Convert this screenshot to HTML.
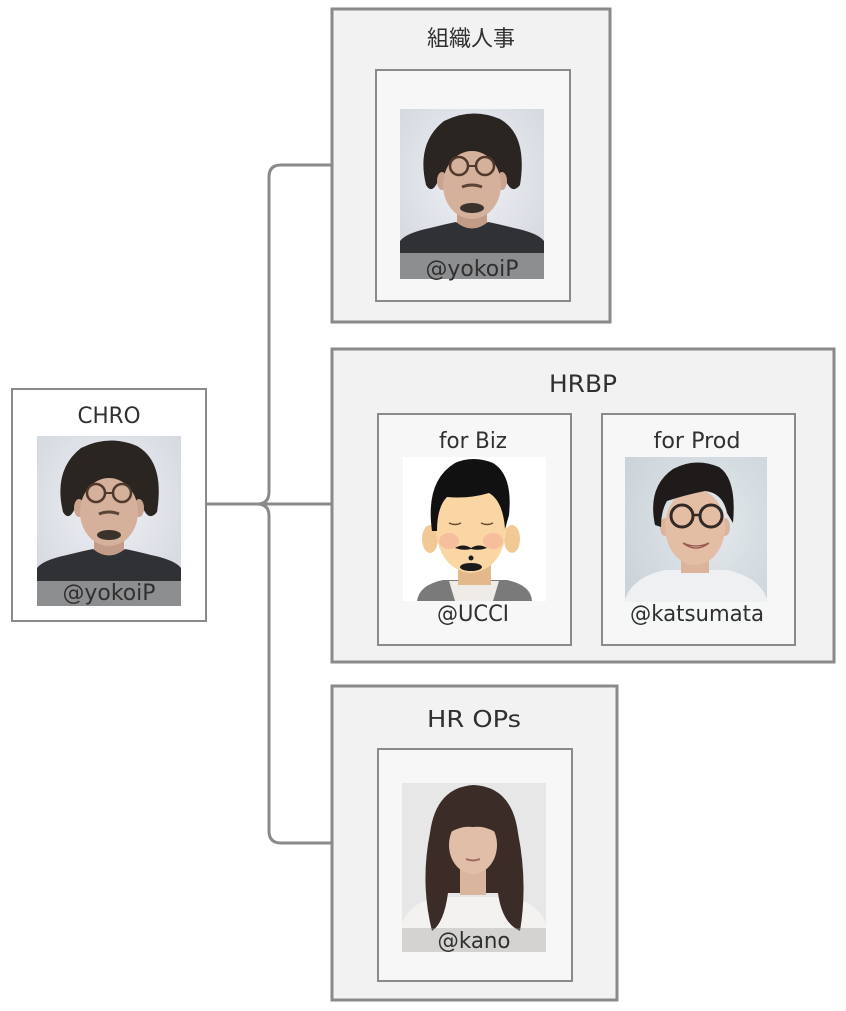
<!DOCTYPE html>
<html>
<head>
<meta charset="utf-8">
<style>
html,body{margin:0;padding:0;background:#fff;}
svg{display:block;}
text{font-family:"DejaVu Sans","Liberation Sans","Noto Sans CJK JP",sans-serif;fill:#303030;}
</style>
</head>
<body>
<svg width="846" height="1011" viewBox="0 0 846 1011" xmlns="http://www.w3.org/2000/svg">
<defs>
<radialGradient id="bgy" cx="50%" cy="40%" r="70%">
<stop offset="0" stop-color="#eef0f4"/><stop offset="1" stop-color="#d3d7de"/>
</radialGradient>
<radialGradient id="bgk" cx="60%" cy="40%" r="75%">
<stop offset="0" stop-color="#e3e8eb"/><stop offset="1" stop-color="#c9d2d8"/>
</radialGradient>
</defs>

<!-- connectors -->
<g fill="none" stroke="#8a8a8a" stroke-width="3">
<path d="M207,504 L331,504"/>
<path d="M257,504 Q269,504 269,492 L269,177 Q269,165 281,165 L331,165"/>
<path d="M257,504 Q269,504 269,516 L269,831 Q269,843 281,843 L331,843"/>
</g>

<!-- CHRO box -->
<rect x="12" y="389" width="194" height="232" fill="#fff" stroke="#8a8a8a" stroke-width="2"/>
<text x="109" y="423" font-size="22" text-anchor="middle" textLength="63" lengthAdjust="spacingAndGlyphs">CHRO</text>

<!-- 組織人事 group -->
<rect x="332" y="9" width="278" height="313" fill="#f2f2f2" stroke="#8a8a8a" stroke-width="3"/>
<rect x="376" y="70" width="194" height="231" fill="#f7f7f7" stroke="#8a8a8a" stroke-width="2"/>
<text x="471" y="46" font-size="22" text-anchor="middle" font-family="Noto Sans CJK JP, sans-serif">組織人事</text>

<!-- HRBP group -->
<rect x="332" y="349" width="502" height="313" fill="#f2f2f2" stroke="#8a8a8a" stroke-width="3"/>
<text x="583" y="392" font-size="24" text-anchor="middle" textLength="68" lengthAdjust="spacingAndGlyphs">HRBP</text>
<rect x="378" y="414" width="193" height="231" fill="#f7f7f7" stroke="#8a8a8a" stroke-width="2"/>
<rect x="602" y="414" width="193" height="231" fill="#f7f7f7" stroke="#8a8a8a" stroke-width="2"/>
<text x="473" y="448" font-size="22" text-anchor="middle" textLength="68" lengthAdjust="spacingAndGlyphs">for Biz</text>
<text x="697" y="448" font-size="22" text-anchor="middle" textLength="87" lengthAdjust="spacingAndGlyphs">for Prod</text>

<!-- HR OPs group -->
<rect x="332" y="686" width="285" height="314" fill="#f2f2f2" stroke="#8a8a8a" stroke-width="3"/>
<rect x="378" y="749" width="194" height="232" fill="#f7f7f7" stroke="#8a8a8a" stroke-width="2"/>
<text x="474" y="727" font-size="23" text-anchor="middle" textLength="94" lengthAdjust="spacingAndGlyphs">HR OPs</text>

<!-- yokoiP photo top -->
<g transform="translate(400,109)">
<rect width="144" height="170" fill="url(#bgy)"/>
<path d="M26,76 Q16,34 44,12 Q72,-2 100,10 Q128,26 120,76 Q112,86 106,72 L38,72 Q32,86 26,76Z" fill="#2b2522"/>
<rect x="57" y="96" width="30" height="28" fill="#c29c87"/>
<path d="M0,132 Q6,124 30,119 Q46,115 56,113 Q72,126 88,113 Q98,115 114,119 Q138,124 144,132 L144,170 L0,170Z" fill="#2f3135"/>
<ellipse cx="42" cy="72" rx="5" ry="9" fill="#c9a48e"/>
<ellipse cx="102" cy="72" rx="5" ry="9" fill="#c9a48e"/>
<ellipse cx="72" cy="76" rx="29" ry="34" fill="#d5b09b"/>
<path d="M40,64 Q36,30 60,22 Q74,18 88,22 Q110,30 104,64 Q100,46 84,42 Q72,36 60,44 Q46,48 40,64Z" fill="#2b2522"/>
<circle cx="59" cy="57" r="9" fill="none" stroke="#4f382c" stroke-width="2.5"/>
<circle cx="85" cy="57" r="9" fill="none" stroke="#4f382c" stroke-width="2.5"/>
<line x1="68" y1="57" x2="76" y2="57" stroke="#4f382c" stroke-width="2"/>
<path d="M62,78 Q72,74 82,78" fill="none" stroke="#5a4438" stroke-width="3"/>
<ellipse cx="72" cy="99" rx="12" ry="5" fill="#3b322c"/>
<rect y="144" width="144" height="26" fill="#8d8e90"/>
<text x="72" y="167" font-size="22" text-anchor="middle" textLength="93" lengthAdjust="spacingAndGlyphs">@yokoiP</text>
</g>

<!-- yokoiP photo CHRO -->
<g transform="translate(37,436)">
<rect width="144" height="170" fill="url(#bgy)"/>
<path d="M26,76 Q16,34 44,12 Q72,-2 100,10 Q128,26 120,76 Q112,86 106,72 L38,72 Q32,86 26,76Z" fill="#2b2522"/>
<rect x="57" y="96" width="30" height="28" fill="#c29c87"/>
<path d="M0,132 Q6,124 30,119 Q46,115 56,113 Q72,126 88,113 Q98,115 114,119 Q138,124 144,132 L144,170 L0,170Z" fill="#2f3135"/>
<ellipse cx="42" cy="72" rx="5" ry="9" fill="#c9a48e"/>
<ellipse cx="102" cy="72" rx="5" ry="9" fill="#c9a48e"/>
<ellipse cx="72" cy="76" rx="29" ry="34" fill="#d5b09b"/>
<path d="M40,64 Q36,30 60,22 Q74,18 88,22 Q110,30 104,64 Q100,46 84,42 Q72,36 60,44 Q46,48 40,64Z" fill="#2b2522"/>
<circle cx="59" cy="57" r="9" fill="none" stroke="#4f382c" stroke-width="2.5"/>
<circle cx="85" cy="57" r="9" fill="none" stroke="#4f382c" stroke-width="2.5"/>
<line x1="68" y1="57" x2="76" y2="57" stroke="#4f382c" stroke-width="2"/>
<path d="M62,78 Q72,74 82,78" fill="none" stroke="#5a4438" stroke-width="3"/>
<ellipse cx="72" cy="99" rx="12" ry="5" fill="#3b322c"/>
<rect y="145" width="144" height="25" fill="#8d8e90"/>
<text x="72" y="164" font-size="22" text-anchor="middle" textLength="93" lengthAdjust="spacingAndGlyphs">@yokoiP</text>
</g>

<!-- UCCI avatar -->
<g transform="translate(403,457)">
<rect width="143" height="144" fill="#ffffff"/>
<path d="M14,144 Q16,128 40,123 L104,123 Q128,128 129,144Z" fill="#7a7a7a"/>
<path d="M46,124 L96,124 L90,144 L52,144Z" fill="#efebe6"/>
<rect x="55" y="104" width="33" height="24" fill="#e3b88a"/>
<ellipse cx="27" cy="82" rx="8" ry="14" fill="#f2c995"/>
<ellipse cx="109" cy="82" rx="8" ry="14" fill="#f2c995"/>
<path d="M32,60 Q32,112 68,116 Q104,112 104,60 Q104,30 68,30 Q32,30 32,60Z" fill="#fad6a5"/>
<path d="M29,74 Q22,24 52,6 Q70,-2 90,6 Q110,18 106,58 L102,72 Q100,44 86,36 Q66,42 44,40 Q34,50 34,74Z" fill="#111"/>
<ellipse cx="46" cy="84" rx="10" ry="8" fill="#f4b49a" opacity="0.7"/>
<ellipse cx="90" cy="84" rx="10" ry="8" fill="#f4b49a" opacity="0.7"/>
<path d="M46,66 Q52,69 58,66 M78,66 Q84,69 90,66" fill="none" stroke="#6b4a30" stroke-width="1.5"/>
<path d="M52,91 Q60,86 68,91 Q76,86 84,91 Q76,94 68,92 Q60,94 52,91Z" fill="#1a1a1a"/>
<circle cx="68" cy="101" r="2.5" fill="#1a1a1a"/>
<ellipse cx="68" cy="110" rx="11" ry="4" fill="#1a1a1a"/>
</g>
<text x="473" y="621" font-size="22" text-anchor="middle" textLength="72" lengthAdjust="spacingAndGlyphs">@UCCI</text>

<!-- katsumata photo -->
<g transform="translate(625,457)">
<rect width="142" height="169" fill="url(#bgk)"/>
<path d="M0,142 Q8,120 40,113 L102,113 Q134,120 142,142 L142,169 L0,169Z" fill="#eff0f1"/>
<rect x="56" y="94" width="28" height="22" fill="#dcb49b"/>
<ellipse cx="40" cy="70" rx="5" ry="9" fill="#dcb49b"/>
<ellipse cx="100" cy="70" rx="5" ry="9" fill="#dcb49b"/>
<ellipse cx="70" cy="70" rx="30" ry="38" fill="#e3bea5"/>
<path d="M30,68 Q22,30 48,12 Q70,0 94,10 Q112,22 108,66 L102,56 Q98,36 80,34 Q60,38 42,44 Q36,54 36,70Z" fill="#1f1b1a"/>
<circle cx="57" cy="59" r="11" fill="none" stroke="#332a26" stroke-width="3"/>
<circle cx="86" cy="59" r="11" fill="none" stroke="#332a26" stroke-width="3"/>
<line x1="68" y1="58" x2="75" y2="58" stroke="#332a26" stroke-width="2.5"/>
<path d="M58,86 Q71,96 84,86 Q71,92 58,86Z" fill="#fbf6f2" stroke="#9a5c50" stroke-width="1.5"/>
<rect y="145" width="142" height="24" fill="#ffffff" opacity="0.45"/>
<text x="72" y="164" font-size="22" text-anchor="middle" textLength="134" lengthAdjust="spacingAndGlyphs">@katsumata</text>
</g>

<!-- kano photo -->
<g transform="translate(402,783)">
<rect width="144" height="169" fill="#e7e7e7"/>
<path d="M0,169 L0,140 Q10,118 36,114 L108,114 Q134,118 144,140 L144,169Z" fill="#f3f2f0"/>
<path d="M30,148 Q18,100 28,50 Q34,4 72,2 Q110,4 116,50 Q126,100 118,148 Q100,140 96,110 L46,110 Q42,140 30,148Z" fill="#3b2c28"/>
<rect x="58" y="82" width="26" height="30" fill="#dab59e"/>
<ellipse cx="71" cy="62" rx="24" ry="29" fill="#e0bea8"/>
<path d="M42,54 Q40,20 71,16 Q102,20 100,54 Q86,42 71,44 Q56,42 42,54Z" fill="#3b2c28"/>
<path d="M64,76 Q71,79 78,76" fill="none" stroke="#a06a60" stroke-width="2"/>
<rect y="145" width="144" height="24" fill="#9a9a9a" opacity="0.35"/>
<text x="72" y="165" font-size="22" text-anchor="middle" textLength="73" lengthAdjust="spacingAndGlyphs">@kano</text>
</g>
</svg>
</body>
</html>
